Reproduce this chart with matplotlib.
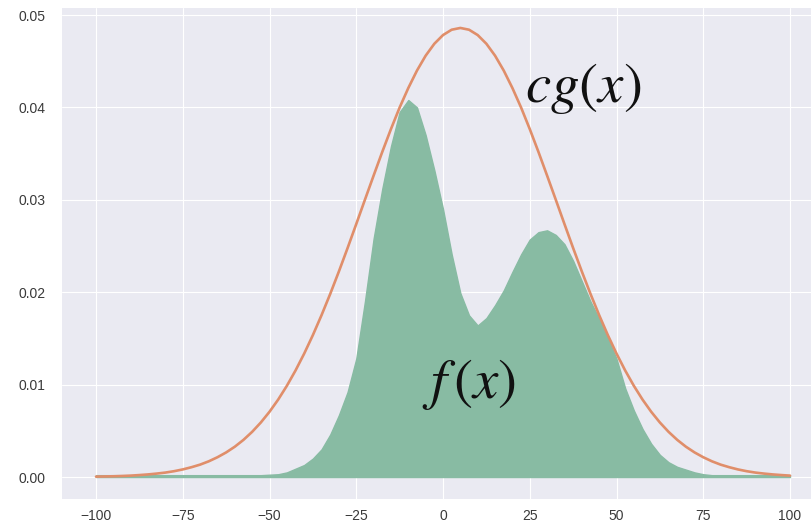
import matplotlib.pyplot as plt
import numpy as np

# x grid of the sampled curves
x = np.linspace(-100, 100, 81)

# envelope c*g(x), every 2.5
cg = [0.00004, 0.00006, 0.00008, 0.00011, 0.00015, 0.00021, 0.00028, 0.00037,
      0.00048, 0.00063, 0.00082, 0.00106, 0.00134, 0.00170, 0.00214, 0.00266,
      0.00328, 0.00402, 0.00489, 0.00590, 0.00706, 0.00838, 0.00987, 0.01153,
      0.01336, 0.01536, 0.01752, 0.01982, 0.02225, 0.02478, 0.02738, 0.03001,
      0.03262, 0.03519, 0.03766, 0.03999, 0.04210, 0.04399, 0.04560, 0.04689,
      0.04783, 0.04841, 0.04860, 0.04841, 0.04783, 0.04689, 0.04560, 0.04399,
      0.04210, 0.03999, 0.03766, 0.03519, 0.03262, 0.03001, 0.02738, 0.02478,
      0.02225, 0.01982, 0.01752, 0.01536, 0.01336, 0.01153, 0.00987, 0.00838,
      0.00706, 0.00590, 0.00489, 0.00402, 0.00328, 0.00266, 0.00214, 0.00170,
      0.00134, 0.00106, 0.00082, 0.00063, 0.00048, 0.00037, 0.00028, 0.00021,
      0.00015]

# target density f(x)
f = [0.0002] * 20 + [
    0.00025, 0.0003, 0.0005, 0.0009, 0.0013, 0.0020, 0.0030, 0.0046,
    0.0067, 0.0092, 0.0128, 0.0190, 0.0258, 0.0312, 0.0358, 0.0395,
    0.0408, 0.0400, 0.0370, 0.0332, 0.0290, 0.0241, 0.0199, 0.0175,
    0.0164, 0.0172, 0.0186, 0.0202, 0.0222, 0.0241, 0.0257, 0.0265,
    0.0267, 0.0262, 0.0252, 0.0234, 0.0212, 0.0190, 0.0171, 0.0150,
    0.0128, 0.0096, 0.0072, 0.0052, 0.0036, 0.0024, 0.0016, 0.0011,
    0.0008, 0.0005, 0.0003, 0.0002] + [0.0002] * 9

yticks = [0.00, 0.01, 0.02, 0.03, 0.04, 0.05]
xticks = [-100, -75, -50, -25, 0, 25, 50, 75, 100]

plt.style.use('seaborn-v0_8-darkgrid')
plt.rcParams['mathtext.fontset'] = 'stix'

fig = plt.figure(figsize=(8.11, 5.28), dpi=100)
ax = fig.add_axes([62 / 811, 29 / 528, 749 / 811, 491 / 528])

ax.fill_between(x, 0, f, color='#88bba3', edgecolor='#88bba3', linewidth=1)
ax.plot(x, cg, color='#e08e6a', lw=1.9)

ax.text(23.5, 0.0406, r'$cg(x)$', fontsize=41, color='#111111')
ax.text(-6, 0.0086, r'$f\,(x)$', fontsize=41, color='#111111')

ax.set_xlim(-109.8, 106.05)
ax.set_ylim(-0.00238, 0.05076)
ax.set_xticks(xticks)
ax.set_yticks(yticks)
ax.set_yticklabels(['%.2f' % v for v in yticks])
ax.tick_params(axis='x', pad=7, labelsize=10, labelcolor='#3a3a3a')
ax.tick_params(axis='y', pad=12, labelsize=10, labelcolor='#3a3a3a')

fig.savefig('out.png', dpi=100)
